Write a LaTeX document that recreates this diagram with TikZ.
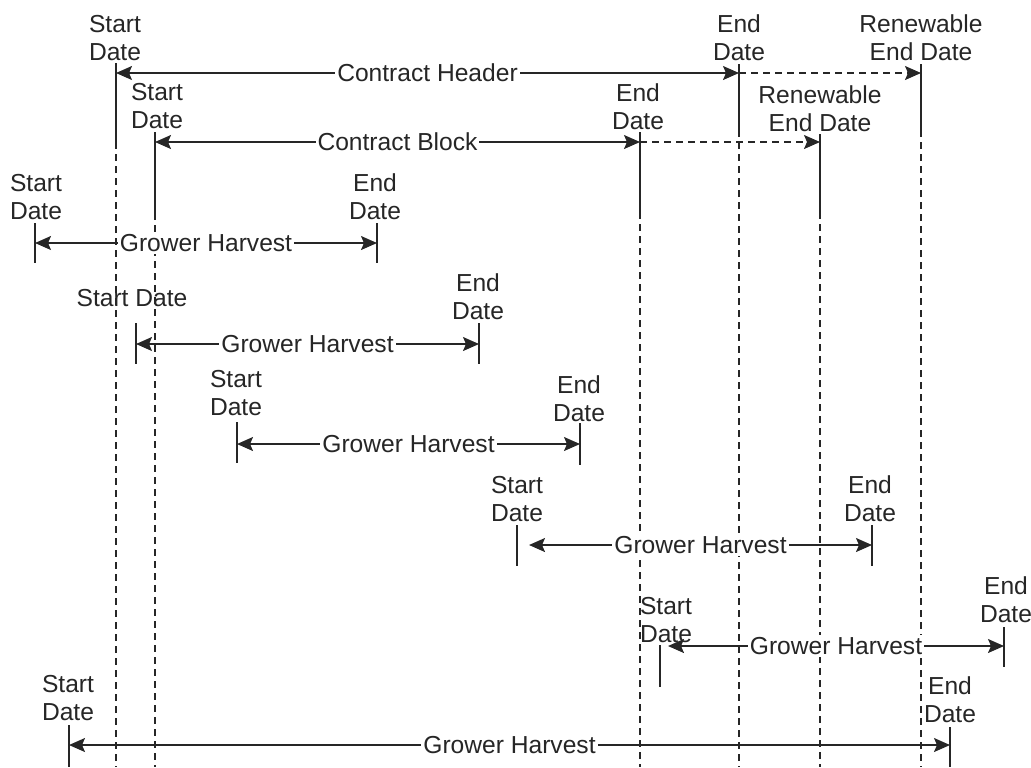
\documentclass[tikz,border=0pt]{standalone}
\usepackage{fontspec}
\setmainfont{Liberation Sans}
\usetikzlibrary{arrows.meta}
\newcommand\datefont{\fontsize{12.3}{14}\selectfont}

\begin{document}
\begin{tikzpicture}[x=0.5pt,y=-0.5pt,line width=0.8pt,
  >={Stealth[length=8pt,width=7pt,inset=1.5pt]},
  bar/.style={draw=black!85},
  guide/.style={draw=black!85,dash pattern=on 3.5pt off 2.5pt},
  span/.style={draw=black!85,<->},
  tag/.style={fill=white,inner sep=1pt,font=\datefont,text=black!85},
  date/.style={align=center,inner sep=0pt,font=\datefont,text=black!85}]
  \useasboundingbox (0,0) rectangle (1031,767);

  % Dashed guides down to the bottom
  \foreach \x/\y in {116/142,155/213,640/212,739/130,820/212,921/130}
    \draw[guide] (\x,\y) -- (\x,767);

  % Solid date ticks
  \foreach \x/\a/\b in {116/63/142, 739/64/130, 921/64/130,
                        155/132/213, 640/132/212, 820/134/212,
                        35/223/263, 377/223/263, 136/323/364, 479/323/364,
                        237/422/463, 580/423/465, 517/525/566, 872/525/566,
                        660/645/687, 1004/627/667, 69/725/767, 950/727/767}
    \draw[bar] (\x,\a) -- (\x,\b);

  % Contract Header
  \coordinate (hdrA) at (116,73);
  \coordinate (hdrB) at (739,73);
  \coordinate (hdrC) at (921,73);
  \draw[span] (hdrA) -- node[tag] (hdrT) {Contract Header} (hdrB);
  \draw[guide,->] (hdrB) -- (hdrC);
  \node[date] (hdrS) at (115,38) {Start\\Date};
  \node[date] (hdrE) at (739,38) {End\\Date};
  \node[date] (hdrR) at (921,38) {Renewable\\End Date};

  % Contract Block
  \coordinate (blkA) at (155,142);
  \coordinate (blkB) at (640,142);
  \coordinate (blkC) at (820,142);
  \draw[span] (blkA) -- node[tag] (blkT) {Contract Block} (blkB);
  \draw[guide,->] (blkB) -- (blkC);
  \node[date] (blkS) at (157,106) {Start\\Date};
  \node[date] (blkE) at (638,107) {End\\Date};
  \node[date] (blkR) at (820,109) {Renewable\\End Date};

  % Grower Harvests
  \foreach \i/\xa/\xb/\y in {1/35/377/243, 2/136/479/344, 3/237/580/444,
                             4/529/872/545, 5/668/1004/646, 6/69/950/745} {
    \coordinate (ghA\i) at (\xa,\y);
    \coordinate (ghB\i) at (\xb,\y);
    \draw[span] (ghA\i) -- node[tag] (ghT\i) {Grower Harvest} (ghB\i);
  }
  \node[date] (ghS1) at (36,197) {Start\\Date};
  \node[date] (ghE1) at (375,197) {End\\Date};
  \node[date] (ghS2) at (132,298) {Start Date};
  \node[date] (ghE2) at (478,297) {End\\Date};
  \node[date] (ghS3) at (236,393) {Start\\Date};
  \node[date] (ghE3) at (579,399) {End\\Date};
  \node[date] (ghS4) at (517,499) {Start\\Date};
  \node[date] (ghE4) at (870,499) {End\\Date};
  \node[date] (ghS5) at (666,620) {Start\\Date};
  \node[date] (ghE5) at (1006,600) {End\\Date};
  \node[date] (ghS6) at (68,698) {Start\\Date};
  \node[date] (ghE6) at (950,700) {End\\Date};
\end{tikzpicture}
\end{document}
